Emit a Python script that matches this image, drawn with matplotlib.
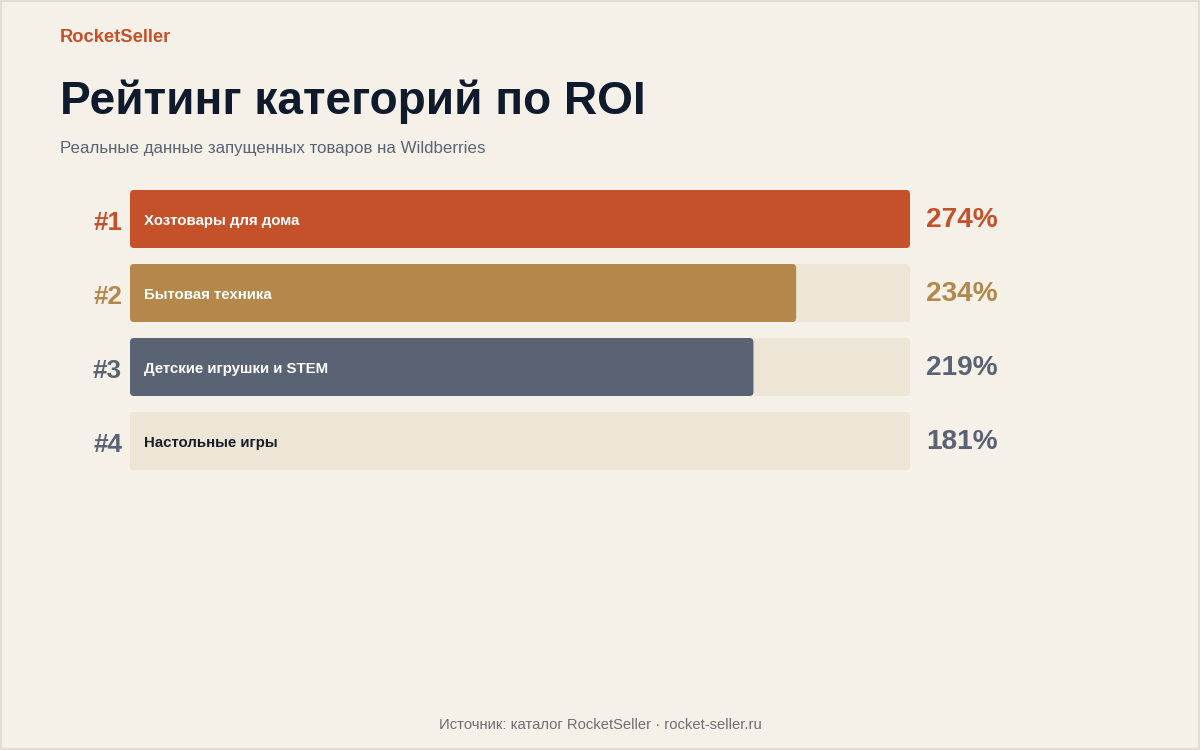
import matplotlib.pyplot as plt
from matplotlib.patches import FancyBboxPatch, Rectangle

plt.rcParams['font.family'] = ['Liberation Sans', 'DejaVu Sans']

categories = ['Хозтовары для дома', 'Бытовая техника', 'Детские игрушки и STEM', 'Настольные игры']
roi = [274, 234, 219, 181]
ranks = ['#1', '#2', '#3', '#4']
bar_colors = ['#C5512A', '#B4884A', '#5A6374', '#EDE5D6']
text_colors = ['#C5512A', '#B4884A', '#5A6374', '#5A6374']
label_colors = ['white', 'white', 'white', '#1A1F2B']

BG = '#F5F0E8'
TRACK = '#EDE5D6'

W, H = 1200, 750
fig = plt.figure(figsize=(12, 7.5), dpi=100, facecolor=BG)
fig.patches.append(Rectangle((0, 0), 1, 1, transform=fig.transFigure, fill=False,
                             edgecolor='#E2DDD5', linewidth=3))

fig.text(60 / W, 1 - 38 / H, 'RocketSeller', color='#C5512A', fontsize=13.2,
         fontweight='bold', va='center')
fig.text(60 / W, 1 - 102 / H, 'Рейтинг категорий по ROI', color='#0F1B2D',
         fontsize=33.1, fontweight='bold', va='center')
fig.text(60 / W, 1 - 149 / H, 'Реальные данные запущенных товаров на Wildberries',
         color='#5A6474', fontsize=12.2, va='center')

# footer with a bit of letter spacing
footer = 'Источник: каталог RocketSeller · rocket-seller.ru'
fig.text(0.5, 1 - 725 / H, footer, color='#6E6E72', fontsize=10.6,
         ha='center', va='center')

# axes: x 130..910 px, rows of 74 px starting at 182 px
ax_top, row = 182, 74
ax = fig.add_axes([130 / W, 1 - (ax_top + row * 4) / H, 780 / W, row * 4 / H])
ax.set_facecolor('none')
vmax = max(roi)
ax.set_xlim(0, vmax)
ax.set_ylim(3.5, -0.5)
ax.axis('off')

bh = 58 / row
x_per_px = vmax / 780
y_per_px = 1 / row
rad = 4 * x_per_px
aspect = y_per_px / x_per_px

for i, (cat, v) in enumerate(zip(categories, roi)):
    track = FancyBboxPatch((0, i - bh / 2), vmax, bh,
                           boxstyle=f'round,pad=0,rounding_size={rad}',
                           mutation_aspect=aspect, facecolor=TRACK, edgecolor='none')
    ax.add_patch(track)
    bar = FancyBboxPatch((0, i - bh / 2), v, bh,
                         boxstyle=f'round,pad=0,rounding_size={rad}',
                         mutation_aspect=aspect, facecolor=bar_colors[i], edgecolor='none')
    ax.add_patch(bar)
    ax.text(14 * x_per_px, i + 0.03, cat, color=label_colors[i], fontsize=10.8,
            fontweight='bold', va='center', ha='left')
    ax.text(-8 * x_per_px, i + 0.06, ranks[i], color=text_colors[i], fontsize=18.8,
            fontweight='bold', va='center', ha='right', clip_on=False)
    ax.text(vmax + 16 * x_per_px, i + 0.01, f'{v}%', color=text_colors[i], fontsize=20.2,
            fontweight='bold', va='center', ha='left', clip_on=False)

fig.savefig('out.png', dpi=100, facecolor=BG)
